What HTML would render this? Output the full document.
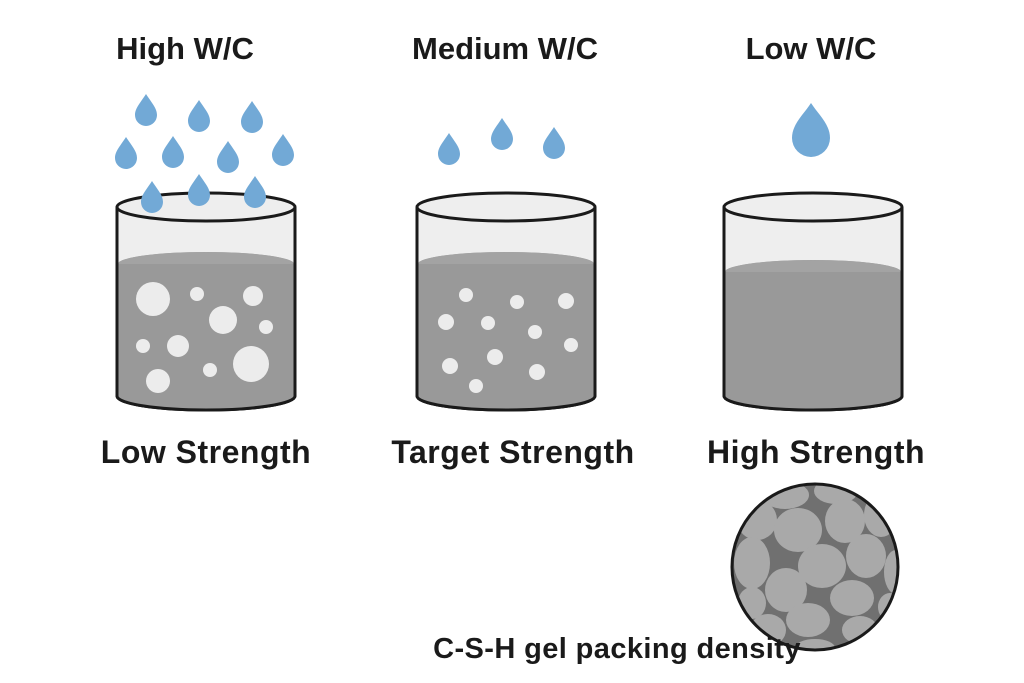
<!DOCTYPE html>
<html><head><meta charset="utf-8"><style>
body{margin:0;background:#fff}
svg{display:block}
text{font-family:"Liberation Sans",sans-serif;fill:#1a1a1a}
</style></head><body>
<svg width="1024" height="683" viewBox="0 0 1024 683">
<defs>
<path id="d" d="M0,-16 C5,-8 11,-2 11,5 A11,11 0 0 1 -11,5 C-11,-2 -5,-8 0,-16 Z" fill="#72a9d6"/>
<clipPath id="cc"><circle cx="815" cy="567" r="83"/></clipPath>
</defs>
<g font-weight="bold" font-size="31" text-anchor="middle">
<text x="185" y="59">High W/C</text>
<text x="505" y="59">Medium W/C</text>
<text x="811" y="59">Low W/C</text>
</g>
<g font-size="32" text-anchor="middle" font-weight="bold" style="letter-spacing:0.5px">
<text x="206" y="463">Low Strength</text>
<text x="513" y="463">Target Strength</text>
<text x="816" y="463">High Strength</text>
</g>

<!-- beakers -->
<g stroke="#1a1a1a" stroke-width="3">
<path d="M117,207 L117,396 A89,14 0 0 0 295,396 L295,207" fill="#eeeeee"/>
<path d="M118,264 A88,12 0 0 1 294,264 L294,396 A88,14 0 0 1 118,396 Z" fill="#999" stroke="none"/>
<path d="M118,264 A88,12 0 0 1 294,264" fill="#a3a3a3" stroke="none"/>
<ellipse cx="206" cy="207" rx="89" ry="14" fill="#eeeeee"/>
<path d="M117,207 L117,396 A89,14 0 0 0 295,396 L295,207" fill="none"/>

<path d="M417,207 L417,396 A89,14 0 0 0 595,396 L595,207" fill="#eeeeee"/>
<path d="M418,264 A88,12 0 0 1 594,264 L594,396 A88,14 0 0 1 418,396 Z" fill="#999" stroke="none"/>
<path d="M418,264 A88,12 0 0 1 594,264" fill="#a3a3a3" stroke="none"/>
<ellipse cx="506" cy="207" rx="89" ry="14" fill="#eeeeee"/>
<path d="M417,207 L417,396 A89,14 0 0 0 595,396 L595,207" fill="none"/>

<path d="M724,207 L724,396 A89,14 0 0 0 902,396 L902,207" fill="#eeeeee"/>
<path d="M725,272 A88,12 0 0 1 901,272 L901,396 A88,14 0 0 1 725,396 Z" fill="#999" stroke="none"/>
<path d="M725,272 A88,12 0 0 1 901,272" fill="#a3a3a3" stroke="none"/>
<ellipse cx="813" cy="207" rx="89" ry="14" fill="#eeeeee"/>
<path d="M724,207 L724,396 A89,14 0 0 0 902,396 L902,207" fill="none"/>
</g>
<g fill="#ececec">
<circle cx="153" cy="299" r="17"/><circle cx="197" cy="294" r="7"/><circle cx="253" cy="296" r="10"/>
<circle cx="223" cy="320" r="14"/><circle cx="266" cy="327" r="7"/><circle cx="143" cy="346" r="7"/>
<circle cx="178" cy="346" r="11"/><circle cx="251" cy="364" r="18"/><circle cx="210" cy="370" r="7"/>
<circle cx="158" cy="381" r="12"/>
<circle cx="466" cy="295" r="7"/><circle cx="517" cy="302" r="7"/><circle cx="566" cy="301" r="8"/>
<circle cx="446" cy="322" r="8"/><circle cx="488" cy="323" r="7"/><circle cx="535" cy="332" r="7"/>
<circle cx="571" cy="345" r="7"/><circle cx="450" cy="366" r="8"/><circle cx="495" cy="357" r="8"/>
<circle cx="537" cy="372" r="8"/><circle cx="476" cy="386" r="7"/>
</g>
<!-- drops -->
<use href="#d" x="146" y="110"/><use href="#d" x="199" y="116"/><use href="#d" x="252" y="117"/>
<use href="#d" x="126" y="153"/><use href="#d" x="173" y="152"/><use href="#d" x="228" y="157"/>
<use href="#d" x="283" y="150"/><use href="#d" x="152" y="197"/><use href="#d" x="199" y="190"/>
<use href="#d" x="255" y="192"/>
<use href="#d" x="449" y="149"/><use href="#d" x="502" y="134"/><use href="#d" x="554" y="143"/>
<path d="M811,103 C818,114 830,124 830,138 A19,19 0 0 1 792,138 C792,124 804,114 811,103 Z" fill="#72a9d6"/>

<!-- gel -->
<g clip-path="url(#cc)">
<rect x="730" y="482" width="170" height="170" fill="#707070"/>
<g fill="#a9a9a9">
<ellipse cx="785" cy="495" rx="24" ry="14"/><ellipse cx="836" cy="491" rx="22" ry="13"/>
<ellipse cx="757" cy="520" rx="20" ry="20"/><ellipse cx="798" cy="530" rx="24" ry="22"/>
<ellipse cx="845" cy="521" rx="20" ry="22"/><ellipse cx="881" cy="515" rx="17" ry="22"/>
<ellipse cx="752" cy="563" rx="18" ry="26"/><ellipse cx="822" cy="566" rx="24" ry="22"/>
<ellipse cx="866" cy="556" rx="20" ry="22"/><ellipse cx="896" cy="572" rx="12" ry="22"/>
<ellipse cx="786" cy="590" rx="21" ry="22"/><ellipse cx="752" cy="603" rx="14" ry="16"/>
<ellipse cx="852" cy="598" rx="22" ry="18"/><ellipse cx="808" cy="620" rx="22" ry="17"/>
<ellipse cx="768" cy="630" rx="18" ry="16"/><ellipse cx="860" cy="630" rx="18" ry="14"/>
<ellipse cx="815" cy="648" rx="20" ry="9"/><ellipse cx="890" cy="607" rx="12" ry="14"/>
</g>
</g>
<circle cx="815" cy="567" r="83" fill="none" stroke="#1a1a1a" stroke-width="3"/>
<text x="617" y="658" font-size="29" font-weight="bold" text-anchor="middle" style="letter-spacing:0.4px">C-S-H gel packing density</text>
</svg>
</body></html>
